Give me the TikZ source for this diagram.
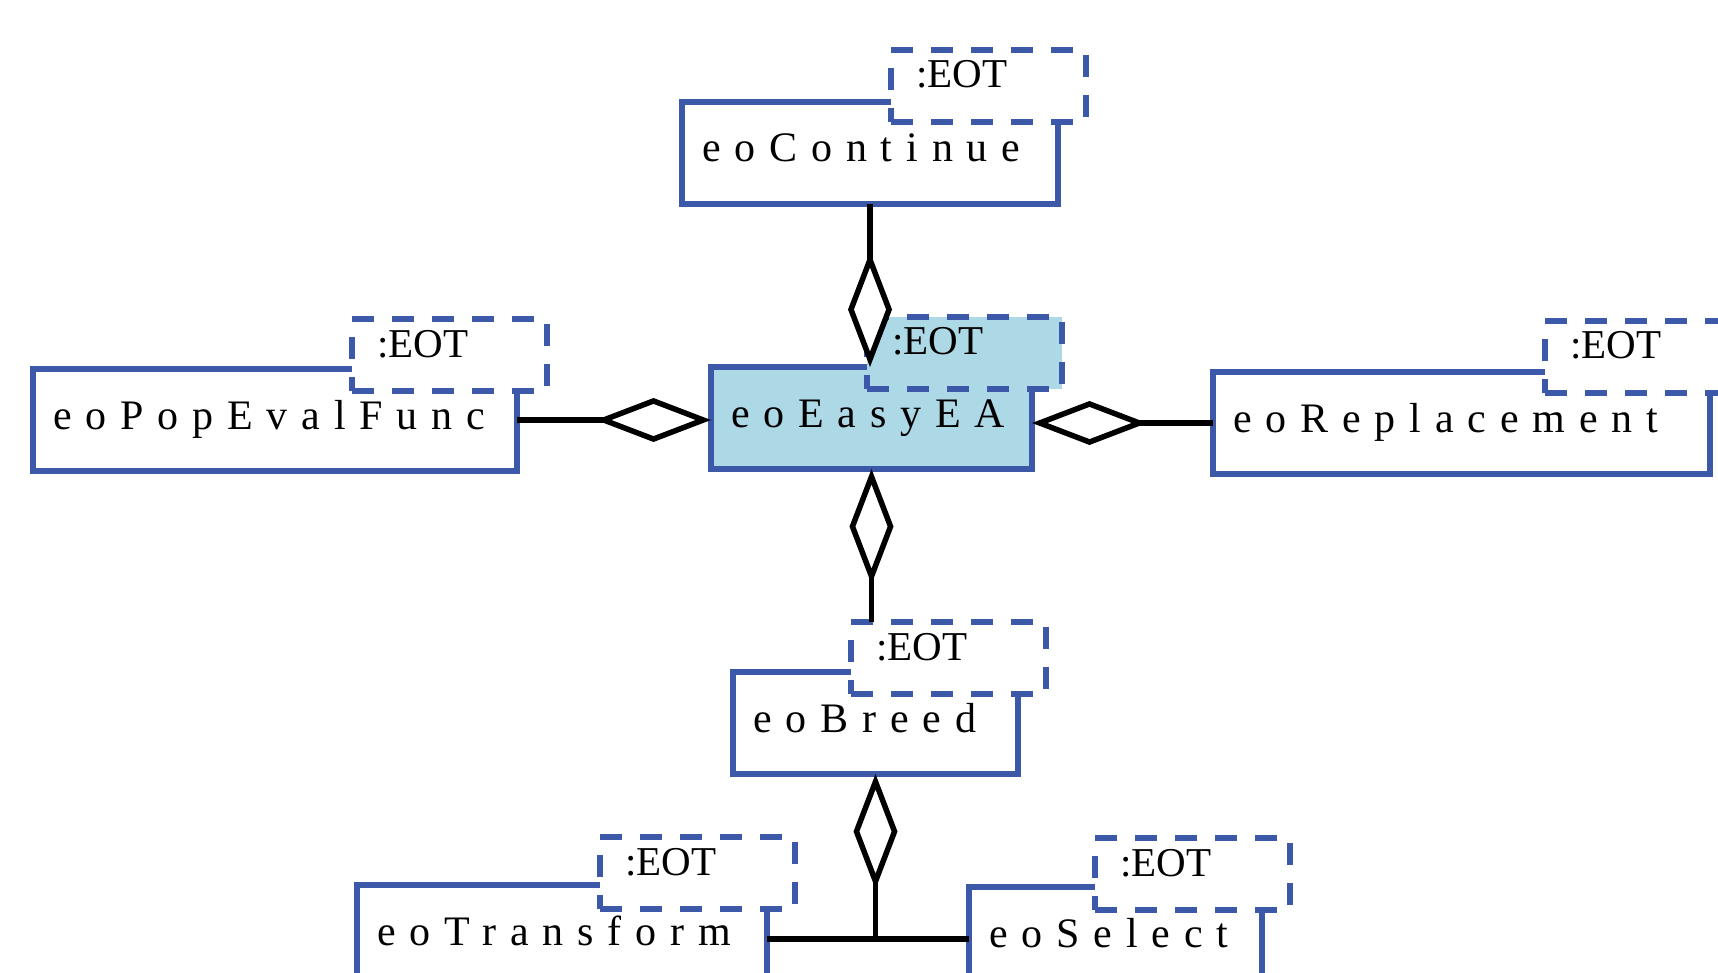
\documentclass[tikz,border=0pt]{standalone}
\usepackage{fontspec}
\setmainfont{Liberation Serif}
\newfontfamily\spacedfont[LetterSpace=33]{Liberation Serif}
\usetikzlibrary{arrows.meta,calc}
\definecolor{umlblue}{RGB}{60,88,168}
\definecolor{umlfill}{RGB}{173,216,230}
\begin{document}
\begin{tikzpicture}[x=1pt,y=-1pt,
  classbox/.style={draw=umlblue, line width=5.5pt, fill=white, anchor=north west,
    inner xsep=20pt, inner ysep=0pt, align=left, text height=60pt, text depth=42pt,
    font=\fontsize{42}{43}\selectfont\spacedfont, outer sep=0pt},
  eotbox/.style={draw=umlblue, line width=5.5pt, fill=white, anchor=north west,
    dash pattern=on 22pt off 18pt,
    inner xsep=25pt, inner ysep=0pt, text width=145pt, align=left,
    text height=38pt, text depth=34pt,
    font=\fontsize{41}{42}\selectfont, outer sep=0pt},
  link/.style={draw=black, line width=5.5pt},
  aggr/.style={link, {Diamond[length=115pt, width=44pt, fill=white]}-}
]
\useasboundingbox (0,0) rectangle (1718,973);
\clip (0,0) rectangle (1718,973);

% class boxes
\node[classbox, text width=336pt] (continue) at (682,102) {eoContinue};
\node[eotbox] (continueT) at (891,50) {:EOT};

\node[classbox, text width=444pt] (popeval) at (33,369) {eoPopEvalFunc};
\node[eotbox] (popevalT) at (352,319) {:EOT};

\node[classbox, text width=281pt, fill=umlfill] (easy) at (711,367) {eoEasyEA};
\node[eotbox, fill=umlfill] (easyT) at (867,317) {:EOT};

\node[classbox, text width=457pt] (replacement) at (1213,372) {eoReplacement};
\node[eotbox] (replacementT) at (1545,321) {:EOT};

\node[classbox, text width=245pt] (breed) at (733,672) {eoBreed};
\node[eotbox] (breedT) at (851,622) {:EOT};

\node[classbox, text width=370pt] (transform) at (357,885) {eoTransform};
\node[eotbox] (transformT) at (600,837) {:EOT};

\node[classbox, text width=253pt] (select) at (969,887) {eoSelect};
\node[eotbox] (selectT) at (1095,838) {:EOT};

% connectors
\draw[aggr] (continue.south |- easy.north) -- (continue.south);
\draw[aggr] (popeval.east -| easy.west) -- (popeval.east);
\draw[aggr] (easy.east |- replacement.west) -- (replacement.west);
\draw[aggr] (easy.south) -- (easy.south |- breedT.north);
\coordinate (junc) at ($(breed.south)+(0,165)$);
\draw[aggr] (breed.south) -- (junc);
\draw[link] (transform.east |- junc) -- (select.west |- junc);
\end{tikzpicture}
\end{document}
